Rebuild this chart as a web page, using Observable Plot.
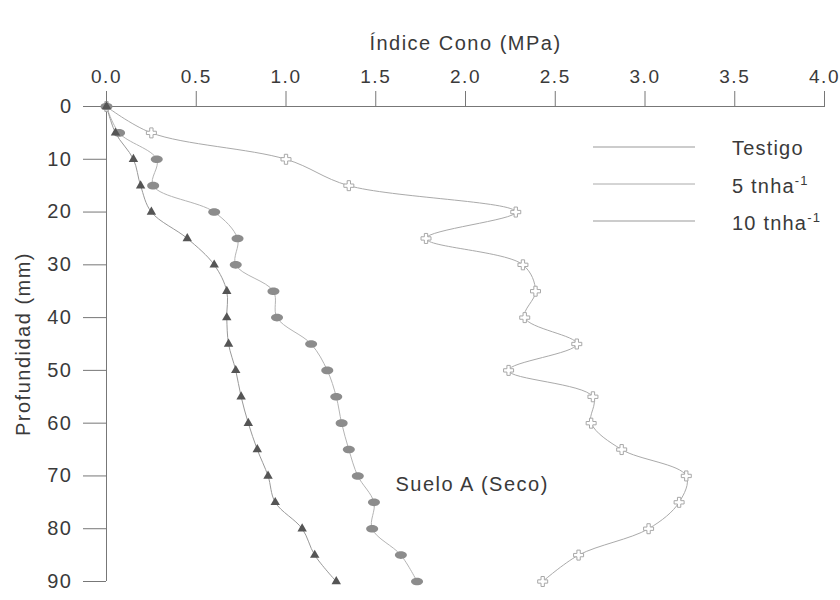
<!DOCTYPE html>
<html>
<head>
<meta charset="utf-8">
<script src="https://cdn.jsdelivr.net/npm/d3@7"></script>
<script src="https://cdn.jsdelivr.net/npm/@observablehq/plot@0.6"></script>
<style>
  body { margin: 0; background: #fff; }
  #wrap { position: relative; width: 840px; height: 600px; font-family: "Liberation Sans", Arial, sans-serif; color: #3a3a3a; }
  #legend { position: absolute; left: 593px; top: 130px; font-size: 20px; letter-spacing: 1.2px; }
  .row { display: flex; align-items: center; height: 37px; }
  .row svg { width: 102px; height: 10px; margin-right: 37px; margin-top: -3px; }
  .row sup { font-size: 13px; }
</style>
</head>
<body>
<div id="wrap">
  <div id="chart"></div>
  <div id="legend"></div>
</div>
<script>
// ---- data ----
const depth   = [0, 5, 10, 15, 20, 25, 30, 35, 40, 45, 50, 55, 60, 65, 70, 75, 80, 85, 90];
const testigo = [0, 0.25, 1.00, 1.35, 2.28, 1.78, 2.32, 2.39, 2.33, 2.62, 2.24, 2.71, 2.70, 2.87, 3.23, 3.19, 3.02, 2.63, 2.43];
const t5      = [0, 0.07, 0.28, 0.26, 0.60, 0.73, 0.72, 0.93, 0.95, 1.14, 1.23, 1.28, 1.31, 1.35, 1.40, 1.49, 1.48, 1.64, 1.73];
const t10     = [0, 0.05, 0.15, 0.19, 0.25, 0.45, 0.60, 0.67, 0.67, 0.68, 0.72, 0.75, 0.79, 0.84, 0.90, 0.94, 1.09, 1.16, 1.28];
const seriesNames = ["Testigo", "5 tnha", "10 tnha"];
const xTicks = [0, 0.5, 1.0, 1.5, 2.0, 2.5, 3.0, 3.5, 4.0];
const yTicks = [0, 10, 20, 30, 40, 50, 60, 70, 80, 90];
const xLabel = "Índice Cono (MPa)";
const yLabel = "Profundidad (mm)";
const note = "Suelo A (Seco)";

const rows = (vals) => depth.map((d, i) => ({depth: d, value: vals[i]}));
const dTestigo = rows(testigo), d5 = rows(t5), d10 = rows(t10);

// ellipse symbol
const ellipse = {
  draw(ctx, size) {
    const rx = 6, ry = 3.8, k = 0.5523;
    ctx.moveTo(rx, 0);
    ctx.bezierCurveTo(rx, ry * k, rx * k, ry, 0, ry);
    ctx.bezierCurveTo(-rx * k, ry, -rx, ry * k, -rx, 0);
    ctx.bezierCurveTo(-rx, -ry * k, -rx * k, -ry, 0, -ry);
    ctx.bezierCurveTo(rx * k, -ry, rx, -ry * k, rx, 0);
    ctx.closePath();
  }
};

const chart = Plot.plot({
  width: 840, height: 600,
  marginTop: 106, marginLeft: 106, marginRight: 16, marginBottom: 19,
  x: {domain: [0, 4]},
  y: {domain: [0, 90], reverse: true},
  style: {fontFamily: "'Liberation Sans', Arial, sans-serif", fontSize: "20px", color: "#3a3a3a", background: "white", letterSpacing: "1.5px"},
  marks: [
    Plot.axisX({anchor: "top", ticks: xTicks, tickSize: 16, tickPadding: 8, tickFormat: d3.format(".1f"),
      label: null, stroke: "#777", fontSize: 19}),
    Plot.axisX({anchor: "top", ticks: [], tickSize: 0,
      label: xLabel, labelAnchor: "center", labelOffset: 71, labelArrow: "none", fontSize: 20}),
    Plot.axisY({anchor: "left", ticks: yTicks, tickSize: 23, tickPadding: 11,
      label: yLabel, labelAnchor: "center", labelOffset: 91, labelArrow: "none", stroke: "#777", fontSize: 20}),
    Plot.ruleY([0], {stroke: "#777"}),
    Plot.ruleX([0], {stroke: "#777"}),
    Plot.line(dTestigo, {x: "value", y: "depth", curve: "catmull-rom", stroke: "#aaa", strokeWidth: 1}),
    Plot.line(d5, {x: "value", y: "depth", curve: "catmull-rom", stroke: "#b4b4b4", strokeWidth: 1}),
    Plot.line(d10, {x: "value", y: "depth", curve: "catmull-rom", stroke: "#999", strokeWidth: 1}),
    Plot.dot(dTestigo, {x: "value", y: "depth", symbol: "cross", r: 4.2, fill: "white", stroke: "#a8a8a8", strokeWidth: 1}),
    Plot.dot(d5, {x: "value", y: "depth", symbol: ellipse, fill: "#8c8c8c", stroke: "none"}),
    Plot.dot(d10, {x: "value", y: "depth", symbol: "triangle", r: 3.5, fill: "#555", stroke: "none"}),
    Plot.text([note], {x: 1.61, y: 71.6, text: d => d, textAnchor: "start", fontSize: 20, fill: "#3a3a3a"})
  ]
});
document.getElementById("chart").append(chart);

// legend
const legend = document.getElementById("legend");
const legendColors = ["#999", "#aaa", "#999"];
seriesNames.forEach((name, i) => {
  const row = document.createElement("div");
  row.className = "row";
  row.innerHTML = `<svg><line x1="0" x2="102" y1="5" y2="5" stroke="${legendColors[i]}" stroke-width="1"/></svg><span>${name}${i > 0 ? "<sup>-1</sup>" : ""}</span>`;
  legend.append(row);
});
</script>
</body>
</html>
